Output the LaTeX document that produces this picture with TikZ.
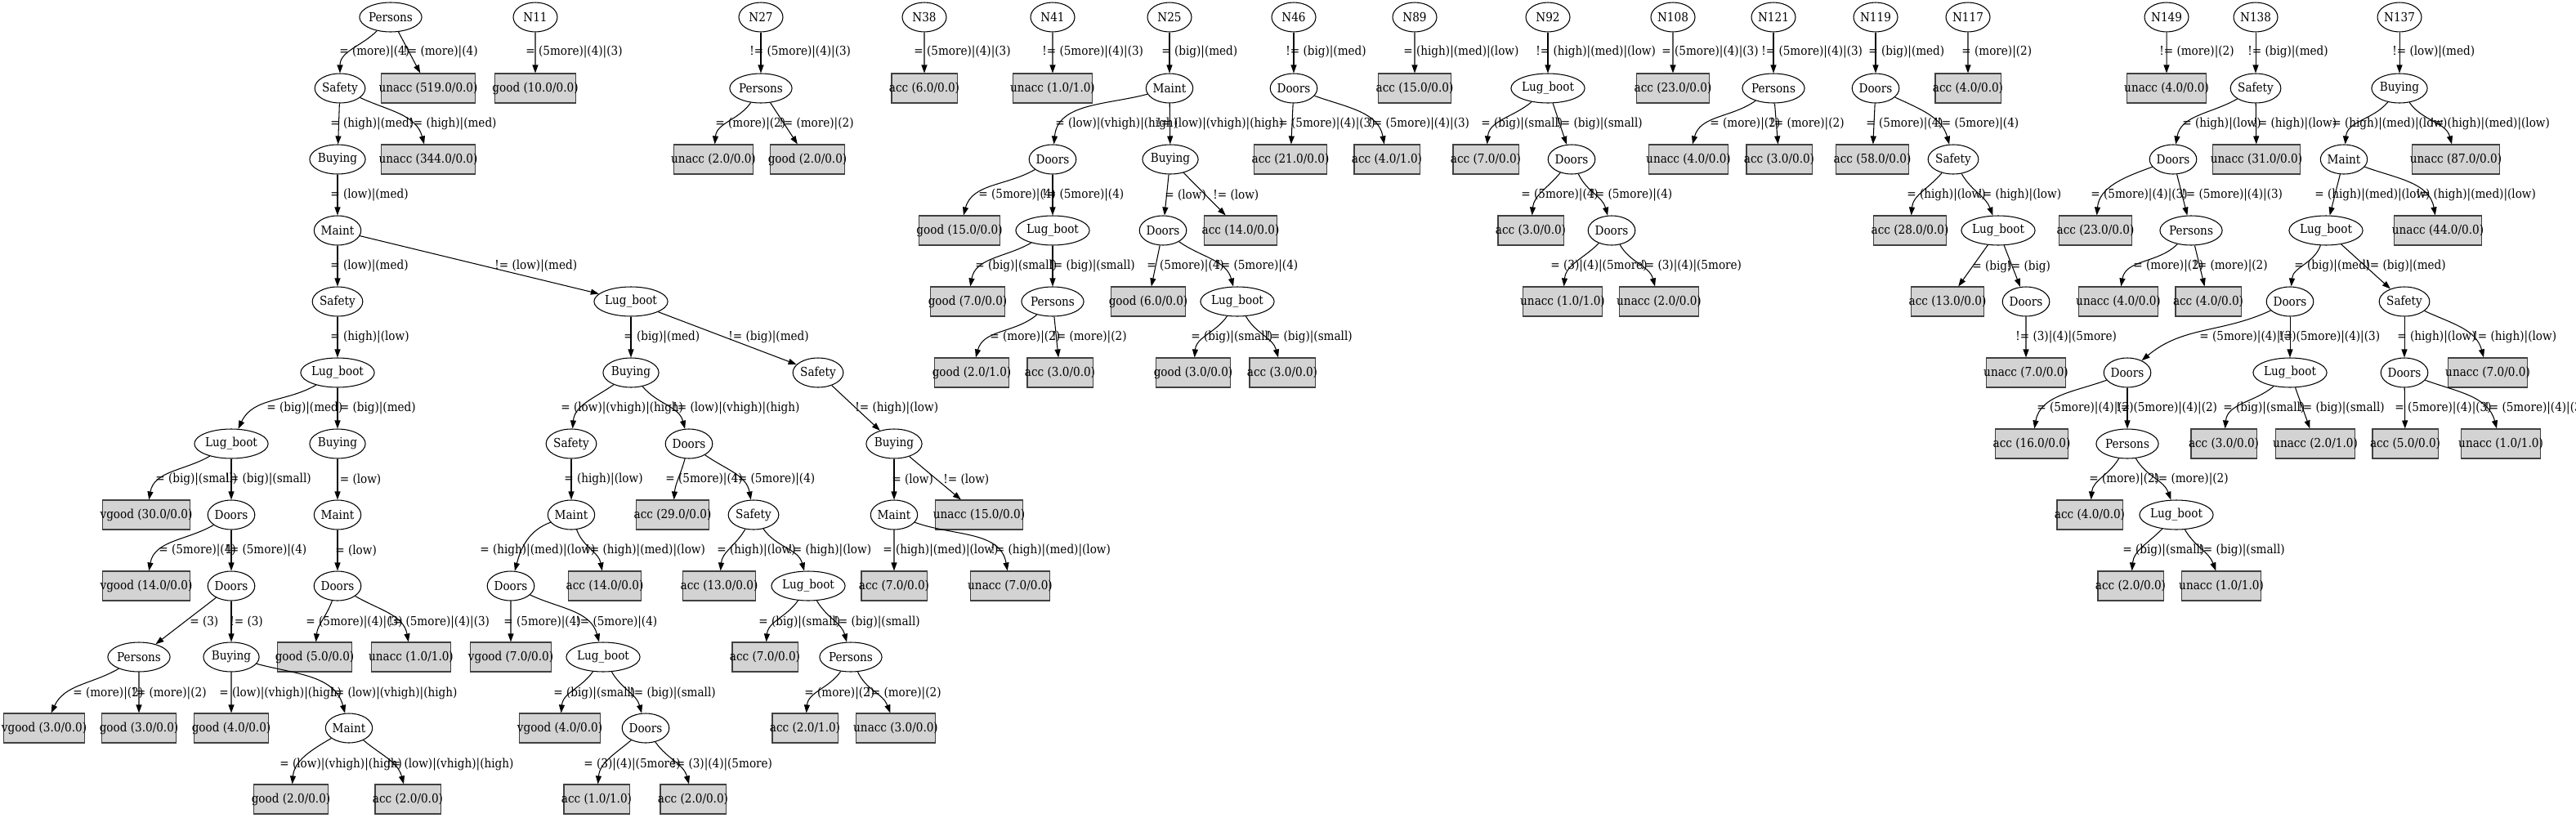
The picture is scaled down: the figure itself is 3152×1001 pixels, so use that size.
\documentclass[tikz,border=0pt]{standalone}
\usepackage{fontspec}
\setmainfont{DejaVu Serif Condensed}
\usetikzlibrary{shapes.geometric,arrows.meta}
\definecolor{boxgray}{HTML}{D3D3D3}
\newcommand{\gvfont}{\fontsize{8.6}{10}\selectfont}
\tikzset{
  attr/.style={ellipse, draw, line width=0.6pt, minimum width=1.08cm, minimum height=0.72cm, inner xsep=0pt, inner ysep=0pt},
  leaf/.style={rectangle, draw=black!75, line width=0.6pt, fill=boxgray, minimum height=0.72cm, inner xsep=-0.06cm},
  lbl/.style={anchor=west, inner sep=0pt},
  edge/.style={line width=0.6pt, -{Triangle[length=0.2cm, width=0.14cm]}},
}
\begin{document}
\begin{tikzpicture}[x=0.02cm, y=0.02cm, font=\gvfont]
  \useasboundingbox (0,0) rectangle (3152,-1001);

  % Tree rooted at Persons
  \node[attr] (a0) at (478,-21) {Persons};
  \node[attr] (a1) at (416,-108) {Safety};
  \node[leaf] (a2) at (524,-108) {unacc (519.0/0.0)};
  \node[attr] (a3) at (413,-195) {Buying};
  \node[leaf] (a4) at (524,-195) {unacc (344.0/0.0)};
  \node[attr] (a5) at (413,-282) {Maint};
  \node[attr] (a6) at (413,-369) {Safety};
  \node[attr] (a7) at (772,-369) {Lug\_boot};
  \node[attr] (a8) at (413,-456) {Lug\_boot};
  \node[attr] (a9) at (283,-543) {Lug\_boot};
  \node[attr] (a10) at (413,-543) {Buying};
  \node[leaf] (a11) at (179,-630) {vgood (30.0/0.0)};
  \node[attr] (a12) at (283,-630) {Doors};
  \node[attr] (a13) at (413,-630) {Maint};
  \node[leaf] (a14) at (179,-717) {vgood (14.0/0.0)};
  \node[attr] (a15) at (283,-717) {Doors};
  \node[attr] (a16) at (413,-717) {Doors};
  \node[attr] (a17) at (170,-804) {Persons};
  \node[attr] (a18) at (283,-804) {Buying};
  \node[leaf] (a19) at (385,-804) {good (5.0/0.0)};
  \node[leaf] (a20) at (503,-804) {unacc (1.0/1.0)};
  \node[leaf] (a21) at (54,-891) {vgood (3.0/0.0)};
  \node[leaf] (a22) at (170,-891) {good (3.0/0.0)};
  \node[leaf] (a23) at (283,-891) {good (4.0/0.0)};
  \node[attr] (a24) at (427,-891) {Maint};
  \node[leaf] (a25) at (356,-978) {good (2.0/0.0)};
  \node[leaf] (a26) at (499,-978) {acc (2.0/0.0)};

  \draw[edge] (a0) to[out=-135,in=90] (a1);
  \draw[edge] (a0) -- (a2);
  \draw[edge] (a1) -- (a3);
  \draw[edge] (a1) to[out=-25,in=105] (a4);
  \draw[edge] (a3) -- (a5);
  \draw[edge] (a5) -- (a6);
  \draw[edge] (a5) -- (a7);
  \draw[edge] (a6) -- (a8);
  \draw[edge] (a8) to[out=-150,in=65] (a9);
  \draw[edge] (a8) -- (a10);
  \draw[edge] (a9) to[out=-150,in=80] (a11);
  \draw[edge] (a9) -- (a12);
  \draw[edge] (a10) -- (a13);
  \draw[edge] (a12) to[out=-150,in=80] (a14);
  \draw[edge] (a12) -- (a15);
  \draw[edge] (a13) -- (a16);
  \draw[edge] (a15) -- (a17);
  \draw[edge] (a15) -- (a18);
  \draw[edge] (a16) to[out=-110,in=85] (a19);
  \draw[edge] (a16) to[out=-30,in=100] (a20);
  \draw[edge] (a17) to[out=-150,in=65] (a21);
  \draw[edge] (a17) -- (a22);
  \draw[edge] (a18) -- (a23);
  \draw[edge] (a18) to[out=-15,in=105] (a24);
  \draw[edge] (a24) to[out=-150,in=85] (a25);
  \draw[edge] (a24) to[out=-40,in=105] (a26);

  \node[lbl] (la1) at (415,-64) {= (more)|(4)};
  \node[lbl] (la2) at (493,-64) {!= (more)|(4)};
  \node[lbl] (la3) at (404,-152) {= (high)|(med)};
  \node[lbl] (la4) at (500,-152) {!= (high)|(med)};
  \node[lbl] (la5) at (404,-239) {= (low)|(med)};
  \node[lbl] (la6) at (404,-326) {= (low)|(med)};
  \node[lbl] (la7) at (605,-326) {!= (low)|(med)};
  \node[lbl] (la8) at (404,-413) {= (high)|(low)};
  \node[lbl] (la9) at (326,-500) {= (big)|(med)};
  \node[lbl] (la10) at (410,-500) {!= (big)|(med)};
  \node[lbl] (la11) at (190,-587) {= (big)|(small)};
  \node[lbl] (la12) at (275,-587) {!= (big)|(small)};
  \node[lbl] (la13) at (410,-587) {!= (low)};
  \node[lbl] (la14) at (194,-674) {= (5more)|(4)};
  \node[lbl] (la15) at (275,-674) {!= (5more)|(4)};
  \node[lbl] (la16) at (410,-674) {= (low)};
  \node[lbl] (la17) at (232,-761) {= (3)};
  \node[lbl] (la18) at (281,-761) {!= (3)};
  \node[lbl] (la19) at (374,-761) {= (5more)|(4)|(3)};
  \node[lbl] (la20) at (475,-761) {!= (5more)|(4)|(3)};
  \node[lbl] (la21) at (89,-848) {= (more)|(2)};
  \node[lbl] (la22) at (161,-848) {!= (more)|(2)};
  \node[lbl] (la23) at (268,-848) {= (low)|(vhigh)|(high)};
  \node[lbl] (la24) at (404,-848) {!= (low)|(vhigh)|(high)};
  \node[lbl] (la25) at (342,-935) {= (low)|(vhigh)|(high)};
  \node[lbl] (la26) at (473,-935) {!= (low)|(vhigh)|(high)};

  % Right branch below the second Lug_boot
  \node[attr] (b1) at (772,-456) {Buying};
  \node[attr] (b2) at (1001,-456) {Safety};
  \node[attr] (b3) at (699,-543) {Safety};
  \node[attr] (b4) at (843,-543) {Doors};
  \node[attr] (b5) at (1094,-543) {Buying};
  \node[attr] (b6) at (699,-630) {Maint};
  \node[leaf] (b7) at (823,-630) {acc (29.0/0.0)};
  \node[attr] (b8) at (922,-630) {Safety};
  \node[attr] (b9) at (1094,-630) {Maint};
  \node[leaf] (b10) at (1198,-630) {unacc (15.0/0.0)};
  \node[attr] (b11) at (625,-717) {Doors};
  \node[leaf] (b12) at (740,-717) {acc (14.0/0.0)};
  \node[leaf] (b13) at (880,-717) {acc (13.0/0.0)};
  \node[attr] (b14) at (989,-717) {Lug\_boot};
  \node[leaf] (b15) at (1094,-717) {acc (7.0/0.0)};
  \node[leaf] (b16) at (1236,-717) {unacc (7.0/0.0)};
  \node[leaf] (b17) at (625,-804) {vgood (7.0/0.0)};
  \node[attr] (b18) at (738,-804) {Lug\_boot};
  \node[leaf] (b19) at (936,-804) {acc (7.0/0.0)};
  \node[attr] (b20) at (1041,-804) {Persons};
  \node[leaf] (b21) at (685,-891) {vgood (4.0/0.0)};
  \node[attr] (b22) at (790,-891) {Doors};
  \node[leaf] (b23) at (985,-891) {acc (2.0/1.0)};
  \node[leaf] (b24) at (1096,-891) {unacc (3.0/0.0)};
  \node[leaf] (b25) at (730,-978) {acc (1.0/1.0)};
  \node[leaf] (b26) at (848,-978) {acc (2.0/0.0)};

  \draw[edge] (a7) -- (b1);
  \draw[edge] (a7) -- (b2);
  \draw[edge] (b1) to[out=-145,in=85] (b3);
  \draw[edge] (b1) to[out=-50,in=105] (b4);
  \draw[edge] (b2) -- (b5);
  \draw[edge] (b3) -- (b6);
  \draw[edge] (b4) to[out=-105,in=85] (b7);
  \draw[edge] (b4) to[out=-35,in=100] (b8);
  \draw[edge] (b5) -- (b9);
  \draw[edge] (b5) -- (b10);
  \draw[edge] (b6) to[out=-160,in=75] (b11);
  \draw[edge] (b6) to[out=-70,in=100] (b12);
  \draw[edge] (b8) to[out=-120,in=85] (b13);
  \draw[edge] (b8) to[out=-55,in=105] (b14);
  \draw[edge] (b9) -- (b15);
  \draw[edge] (b9) to[out=-20,in=100] (b16);
  \draw[edge] (b11) -- (b17);
  \draw[edge] (b11) to[out=-25,in=105] (b18);
  \draw[edge] (b14) to[out=-125,in=85] (b19);
  \draw[edge] (b14) to[out=-60,in=105] (b20);
  \draw[edge] (b18) to[out=-125,in=85] (b21);
  \draw[edge] (b18) to[out=-60,in=105] (b22);
  \draw[edge] (b20) to[out=-125,in=85] (b23);
  \draw[edge] (b20) to[out=-65,in=110] (b24);
  \draw[edge] (b22) to[out=-140,in=85] (b25);
  \draw[edge] (b22) to[out=-55,in=105] (b26);

  \node[lbl] (lb1) at (763,-413) {= (big)|(med)};
  \node[lbl] (lb2) at (891,-413) {!= (big)|(med)};
  \node[lbl] (lb3) at (686,-500) {= (low)|(vhigh)|(high)};
  \node[lbl] (lb4) at (823,-500) {!= (low)|(vhigh)|(high)};
  \node[lbl] (lb5) at (1046,-500) {!= (high)|(low)};
  \node[lbl] (lb6) at (690,-587) {= (high)|(low)};
  \node[lbl] (lb7) at (814,-587) {= (5more)|(4)};
  \node[lbl] (lb8) at (897,-587) {!= (5more)|(4)};
  \node[lbl] (lb9) at (1091,-587) {= (low)};
  \node[lbl] (lb10) at (1154,-587) {!= (low)};
  \node[lbl] (lb11) at (587,-674) {= (high)|(med)|(low)};
  \node[lbl] (lb12) at (716,-674) {!= (high)|(med)|(low)};
  \node[lbl] (lb13) at (877,-674) {= (high)|(low)};
  \node[lbl] (lb14) at (964,-674) {!= (high)|(low)};
  \node[lbl] (lb15) at (1080,-674) {= (high)|(med)|(low)};
  \node[lbl] (lb16) at (1212,-674) {!= (high)|(med)|(low)};
  \node[lbl] (lb17) at (616,-761) {= (5more)|(4)};
  \node[lbl] (lb18) at (704,-761) {!= (5more)|(4)};
  \node[lbl] (lb19) at (928,-761) {= (big)|(small)};
  \node[lbl] (lb20) at (1020,-761) {!= (big)|(small)};
  \node[lbl] (lb21) at (677,-848) {= (big)|(small)};
  \node[lbl] (lb22) at (770,-848) {!= (big)|(small)};
  \node[lbl] (lb23) at (984,-848) {= (more)|(2)};
  \node[lbl] (lb24) at (1060,-848) {!= (more)|(2)};
  \node[lbl] (lb25) at (714,-935) {= (3)|(4)|(5more)};
  \node[lbl] (lb26) at (821,-935) {!= (3)|(4)|(5more)};

  % Small trees N11, N27, N38, N41
  \node[attr] (c0) at (655,-21) {N11};
  \node[leaf] (c1) at (655,-108) {good (10.0/0.0)};
  \draw[edge] (c0) -- (c1);
  \node[lbl] (lc1) at (643,-64) {= (5more)|(4)|(3)};

  \node[attr] (d0) at (931,-21) {N27};
  \node[attr] (d1) at (931,-108) {Persons};
  \node[leaf] (d2) at (873,-195) {unacc (2.0/0.0)};
  \node[leaf] (d3) at (988,-195) {good (2.0/0.0)};
  \draw[edge] (d0) -- (d1);
  \draw[edge] (d1) to[out=-125,in=85] (d2);
  \draw[edge] (d1) -- (d3);
  \node[lbl] (ld1) at (917,-64) {!= (5more)|(4)|(3)};
  \node[lbl] (ld2) at (875,-152) {= (more)|(2)};
  \node[lbl] (ld3) at (953,-152) {!= (more)|(2)};

  \node[attr] (e0) at (1131,-21) {N38};
  \node[leaf] (e1) at (1131,-108) {acc (6.0/0.0)};
  \draw[edge] (e0) -- (e1);
  \node[lbl] (le1) at (1118,-64) {= (5more)|(4)|(3)};

  \node[attr] (f0) at (1288,-21) {N41};
  \node[leaf] (f1) at (1288,-108) {unacc (1.0/1.0)};
  \draw[edge] (f0) -- (f1);
  \node[lbl] (lf1) at (1275,-64) {!= (5more)|(4)|(3)};

  % N25
  \node[attr] (g0) at (1431,-21) {N25};
  \node[attr] (g1) at (1431,-108) {Maint};
  \node[attr] (g2) at (1288,-195) {Doors};
  \node[attr] (g3) at (1432,-195) {Buying};
  \node[leaf] (g4) at (1174,-282) {good (15.0/0.0)};
  \node[attr] (g5) at (1288,-282) {Lug\_boot};
  \node[attr] (g6) at (1423,-282) {Doors};
  \node[leaf] (g7) at (1518,-282) {acc (14.0/0.0)};
  \node[leaf] (g8) at (1184,-369) {good (7.0/0.0)};
  \node[attr] (g9) at (1288,-369) {Persons};
  \node[leaf] (g10) at (1405,-369) {good (6.0/0.0)};
  \node[attr] (g11) at (1514,-369) {Lug\_boot};
  \node[leaf] (g12) at (1189,-456) {good (2.0/1.0)};
  \node[leaf] (g13) at (1297,-456) {acc (3.0/0.0)};
  \node[leaf] (g14) at (1460,-456) {good (3.0/0.0)};
  \node[leaf] (g15) at (1569,-456) {acc (3.0/0.0)};

  \draw[edge] (g0) -- (g1);
  \draw[edge] (g1) to[out=-165,in=85] (g2);
  \draw[edge] (g1) -- (g3);
  \draw[edge] (g2) to[out=-150,in=75] (g4);
  \draw[edge] (g2) -- (g5);
  \draw[edge] (g3) -- (g6);
  \draw[edge] (g3) -- (g7);
  \draw[edge] (g5) to[out=-150,in=80] (g8);
  \draw[edge] (g5) -- (g9);
  \draw[edge] (g6) -- (g10);
  \draw[edge] (g6) to[out=-35,in=105] (g11);
  \draw[edge] (g9) to[out=-140,in=75] (g12);
  \draw[edge] (g9) -- (g13);
  \draw[edge] (g11) to[out=-125,in=85] (g14);
  \draw[edge] (g11) to[out=-60,in=105] (g15);

  \node[lbl] (lg1) at (1421,-64) {= (big)|(med)};
  \node[lbl] (lg2) at (1291,-152) {= (low)|(vhigh)|(high)};
  \node[lbl] (lg3) at (1415,-152) {!= (low)|(vhigh)|(high)};
  \node[lbl] (lg4) at (1197,-239) {= (5more)|(4)};
  \node[lbl] (lg5) at (1275,-239) {!= (5more)|(4)};
  \node[lbl] (lg6) at (1425,-239) {= (low)};
  \node[lbl] (lg7) at (1484,-239) {!= (low)};
  \node[lbl] (lg8) at (1193,-326) {= (big)|(small)};
  \node[lbl] (lg9) at (1283,-326) {!= (big)|(small)};
  \node[lbl] (lg10) at (1403,-326) {= (5more)|(4)};
  \node[lbl] (lg11) at (1488,-326) {!= (5more)|(4)};
  \node[lbl] (lg12) at (1211,-413) {= (more)|(2)};
  \node[lbl] (lg13) at (1287,-413) {!= (more)|(2)};
  \node[lbl] (lg14) at (1457,-413) {= (big)|(small)};
  \node[lbl] (lg15) at (1549,-413) {!= (big)|(small)};

  % N46, N89
  \node[attr] (h0) at (1583,-21) {N46};
  \node[attr] (h1) at (1583,-108) {Doors};
  \node[leaf] (h2) at (1579,-195) {acc (21.0/0.0)};
  \node[leaf] (h3) at (1697,-195) {acc (4.0/1.0)};
  \draw[edge] (h0) -- (h1);
  \draw[edge] (h1) -- (h2);
  \draw[edge] (h1) to[out=-20,in=100] (h3);
  \node[lbl] (lh1) at (1573,-64) {!= (big)|(med)};
  \node[lbl] (lh2) at (1564,-152) {= (5more)|(4)|(3)};
  \node[lbl] (lh3) at (1674,-152) {!= (5more)|(4)|(3)};

  \node[attr] (i0) at (1731,-21) {N89};
  \node[leaf] (i1) at (1731,-108) {acc (15.0/0.0)};
  \draw[edge] (i0) -- (i1);
  \node[lbl] (li1) at (1717,-64) {= (high)|(med)|(low)};

  % N92
  \node[attr] (j0) at (1894,-21) {N92};
  \node[attr] (j1) at (1894,-108) {Lug\_boot};
  \node[leaf] (j2) at (1818,-195) {acc (7.0/0.0)};
  \node[attr] (j3) at (1923,-195) {Doors};
  \node[leaf] (j4) at (1873,-282) {acc (3.0/0.0)};
  \node[attr] (j5) at (1972,-282) {Doors};
  \node[leaf] (j6) at (1912,-369) {unacc (1.0/1.0)};
  \node[leaf] (j7) at (2030,-369) {unacc (2.0/0.0)};
  \draw[edge] (j0) -- (j1);
  \draw[edge] (j1) to[out=-140,in=85] (j2);
  \draw[edge] (j1) -- (j3);
  \draw[edge] (j3) to[out=-130,in=85] (j4);
  \draw[edge] (j3) to[out=-65,in=105] (j5);
  \draw[edge] (j5) to[out=-135,in=85] (j6);
  \draw[edge] (j5) to[out=-60,in=105] (j7);
  \node[lbl] (lj1) at (1879,-64) {!= (high)|(med)|(low)};
  \node[lbl] (lj2) at (1812,-152) {= (big)|(small)};
  \node[lbl] (lj3) at (1904,-152) {!= (big)|(small)};
  \node[lbl] (lj4) at (1861,-239) {= (5more)|(4)};
  \node[lbl] (lj5) at (1946,-239) {!= (5more)|(4)};
  \node[lbl] (lj6) at (1897,-326) {= (3)|(4)|(5more)};
  \node[lbl] (lj7) at (2007,-326) {!= (3)|(4)|(5more)};

  % N108, N121
  \node[attr] (k0) at (2047,-21) {N108};
  \node[leaf] (k1) at (2047,-108) {acc (23.0/0.0)};
  \draw[edge] (k0) -- (k1);
  \node[lbl] (lk1) at (2033,-64) {= (5more)|(4)|(3)};

  \node[attr] (l0) at (2170,-21) {N121};
  \node[attr] (l1) at (2170,-108) {Persons};
  \node[leaf] (l2) at (2066,-195) {unacc (4.0/0.0)};
  \node[leaf] (l3) at (2177,-195) {acc (3.0/0.0)};
  \draw[edge] (l0) -- (l1);
  \draw[edge] (l1) to[out=-145,in=75] (l2);
  \draw[edge] (l1) -- (l3);
  \node[lbl] (ll1) at (2155,-64) {!= (5more)|(4)|(3)};
  \node[lbl] (ll2) at (2092,-152) {= (more)|(2)};
  \node[lbl] (ll3) at (2165,-152) {!= (more)|(2)};

  % N119
  \node[attr] (m0) at (2295,-21) {N119};
  \node[attr] (m1) at (2295,-108) {Doors};
  \node[leaf] (m2) at (2291,-195) {acc (58.0/0.0)};
  \node[attr] (m3) at (2390,-195) {Safety};
  \node[leaf] (m4) at (2337,-282) {acc (28.0/0.0)};
  \node[attr] (m5) at (2445,-282) {Lug\_boot};
  \node[leaf] (m6) at (2383,-369) {acc (13.0/0.0)};
  \node[attr] (m7) at (2479,-369) {Doors};
  \node[leaf] (m8) at (2479,-456) {unacc (7.0/0.0)};
  \draw[edge] (m0) -- (m1);
  \draw[edge] (m1) -- (m2);
  \draw[edge] (m1) to[out=-25,in=105] (m3);
  \draw[edge] (m3) to[out=-130,in=85] (m4);
  \draw[edge] (m3) to[out=-60,in=110] (m5);
  \draw[edge] (m5) -- (m6);
  \draw[edge] (m5) -- (m7);
  \draw[edge] (m7) -- (m8);
  \node[lbl] (lm1) at (2286,-64) {= (big)|(med)};
  \node[lbl] (lm2) at (2283,-152) {= (5more)|(4)};
  \node[lbl] (lm3) at (2370,-152) {!= (5more)|(4)};
  \node[lbl] (lm4) at (2333,-239) {= (high)|(low)};
  \node[lbl] (lm5) at (2420,-239) {!= (high)|(low)};
  \node[lbl] (lm6) at (2413,-326) {= (big)};
  \node[lbl] (lm7) at (2455,-326) {!= (big)};
  \node[lbl] (lm8) at (2466,-413) {!= (3)|(4)|(5more)};

  % N117, N149
  \node[attr] (n0) at (2408,-21) {N117};
  \node[leaf] (n1) at (2408,-108) {acc (4.0/0.0)};
  \draw[edge] (n0) -- (n1);
  \node[lbl] (ln1) at (2400,-64) {= (more)|(2)};

  \node[attr] (o0) at (2651,-21) {N149};
  \node[leaf] (o1) at (2651,-108) {unacc (4.0/0.0)};
  \draw[edge] (o0) -- (o1);
  \node[lbl] (lo1) at (2642,-64) {!= (more)|(2)};

  % N138
  \node[attr] (p0) at (2760,-21) {N138};
  \node[attr] (p1) at (2760,-108) {Safety};
  \node[attr] (p2) at (2659,-195) {Doors};
  \node[leaf] (p3) at (2761,-195) {unacc (31.0/0.0)};
  \node[leaf] (p4) at (2564,-282) {acc (23.0/0.0)};
  \node[attr] (p5) at (2681,-282) {Persons};
  \node[leaf] (p6) at (2592,-369) {unacc (4.0/0.0)};
  \node[leaf] (p7) at (2702,-369) {acc (4.0/0.0)};
  \draw[edge] (p0) -- (p1);
  \draw[edge] (p1) to[out=-150,in=80] (p2);
  \draw[edge] (p1) -- (p3);
  \draw[edge] (p2) to[out=-160,in=85] (p4);
  \draw[edge] (p2) -- (p5);
  \draw[edge] (p5) to[out=-135,in=80] (p6);
  \draw[edge] (p5) -- (p7);
  \node[lbl] (lp1) at (2750,-64) {!= (big)|(med)};
  \node[lbl] (lp2) at (2670,-152) {= (high)|(low)};
  \node[lbl] (lp3) at (2757,-152) {!= (high)|(low)};
  \node[lbl] (lp4) at (2558,-239) {= (5more)|(4)|(3)};
  \node[lbl] (lp5) at (2669,-239) {!= (5more)|(4)|(3)};
  \node[lbl] (lp6) at (2610,-326) {= (more)|(2)};
  \node[lbl] (lp7) at (2683,-326) {!= (more)|(2)};

  % N137
  \node[attr] (q0) at (2936,-21) {N137};
  \node[attr] (q1) at (2936,-108) {Buying};
  \node[attr] (q2) at (2868,-195) {Maint};
  \node[leaf] (q3) at (3005,-195) {unacc (87.0/0.0)};
  \node[attr] (q4) at (2846,-282) {Lug\_boot};
  \node[leaf] (q5) at (2983,-282) {unacc (44.0/0.0)};
  \node[attr] (q6) at (2802,-369) {Doors};
  \node[attr] (q7) at (2942,-369) {Safety};
  \node[attr] (q8) at (2603,-456) {Doors};
  \node[attr] (q9) at (2802,-456) {Lug\_boot};
  \node[attr] (q10) at (2942,-456) {Doors};
  \node[leaf] (q11) at (3044,-456) {unacc (7.0/0.0)};
  \node[leaf] (q12) at (2486,-543) {acc (16.0/0.0)};
  \node[attr] (q13) at (2603,-543) {Persons};
  \node[leaf] (q14) at (2721,-543) {acc (3.0/0.0)};
  \node[leaf] (q15) at (2833,-543) {unacc (2.0/1.0)};
  \node[leaf] (q16) at (2943,-543) {acc (5.0/0.0)};
  \node[leaf] (q17) at (3060,-543) {unacc (1.0/1.0)};
  \node[leaf] (q18) at (2557,-630) {acc (4.0/0.0)};
  \node[attr] (q19) at (2663,-630) {Lug\_boot};
  \node[leaf] (q20) at (2607,-717) {acc (2.0/0.0)};
  \node[leaf] (q21) at (2718,-717) {unacc (1.0/1.0)};

  \draw[edge] (q0) -- (q1);
  \draw[edge] (q1) to[out=-130,in=85] (q2);
  \draw[edge] (q1) to[out=-55,in=105] (q3);
  \draw[edge] (q2) -- (q4);
  \draw[edge] (q2) to[out=-20,in=100] (q5);
  \draw[edge] (q4) to[out=-110,in=85] (q6);
  \draw[edge] (q4) -- (q7);
  \draw[edge] (q6) to[out=-155,in=40] (q8);
  \draw[edge] (q6) -- (q9);
  \draw[edge] (q7) -- (q10);
  \draw[edge] (q7) to[out=-25,in=105] (q11);
  \draw[edge] (q8) to[out=-160,in=80] (q12);
  \draw[edge] (q8) -- (q13);
  \draw[edge] (q9) to[out=-140,in=85] (q14);
  \draw[edge] (q9) -- (q15);
  \draw[edge] (q10) -- (q16);
  \draw[edge] (q10) to[out=-20,in=105] (q17);
  \draw[edge] (q13) to[out=-120,in=85] (q18);
  \draw[edge] (q13) to[out=-60,in=110] (q19);
  \draw[edge] (q19) to[out=-135,in=85] (q20);
  \draw[edge] (q19) to[out=-60,in=110] (q21);

  \node[lbl] (lq1) at (2927,-64) {!= (low)|(med)};
  \node[lbl] (lq2) at (2853,-152) {= (high)|(med)|(low)};
  \node[lbl] (lq3) at (2973,-152) {!= (high)|(med)|(low)};
  \node[lbl] (lq4) at (2832,-239) {= (high)|(med)|(low)};
  \node[lbl] (lq5) at (2956,-239) {!= (high)|(med)|(low)};
  \node[lbl] (lq6) at (2807,-326) {= (big)|(med)};
  \node[lbl] (lq7) at (2894,-326) {!= (big)|(med)};
  \node[lbl] (lq8) at (2691,-413) {= (5more)|(4)|(3)};
  \node[lbl] (lq9) at (2788,-413) {!= (5more)|(4)|(3)};
  \node[lbl] (lq10) at (2933,-413) {= (high)|(low)};
  \node[lbl] (lq11) at (3026,-413) {!= (high)|(low)};
  \node[lbl] (lq12) at (2492,-500) {= (5more)|(4)|(2)};
  \node[lbl] (lq13) at (2589,-500) {!= (5more)|(4)|(2)};
  \node[lbl] (lq14) at (2720,-500) {= (big)|(small)};
  \node[lbl] (lq15) at (2812,-500) {!= (big)|(small)};
  \node[lbl] (lq16) at (2930,-500) {= (5more)|(4)|(3)};
  \node[lbl] (lq17) at (3040,-500) {!= (5more)|(4)|(3)};
  \node[lbl] (lq18) at (2556,-587) {= (more)|(2)};
  \node[lbl] (lq19) at (2635,-587) {!= (more)|(2)};
  \node[lbl] (lq20) at (2597,-674) {= (big)|(small)};
  \node[lbl] (lq21) at (2690,-674) {!= (big)|(small)};
\end{tikzpicture}
\end{document}
